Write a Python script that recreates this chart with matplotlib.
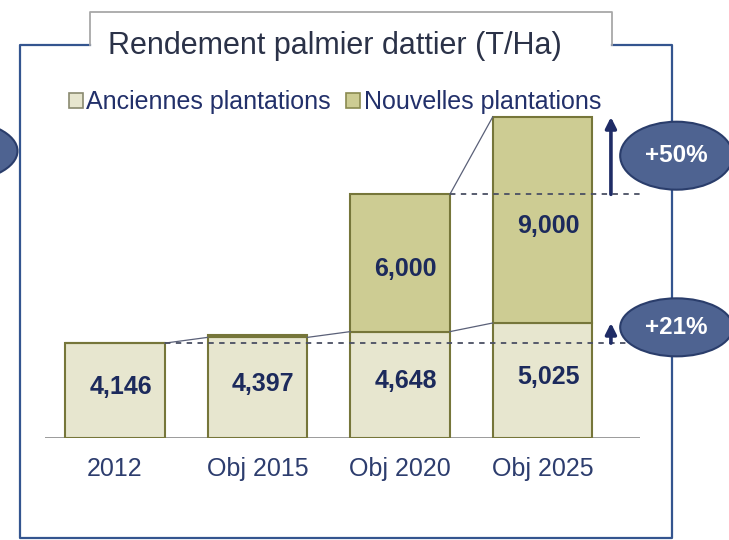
import matplotlib

matplotlib.use("Agg")
import matplotlib.pyplot as plt
import numpy as np
from matplotlib.patches import Ellipse, Patch

plt.rcParams["font.family"] = ["Liberation Sans", "DejaVu Sans"]

# rendement (T/Ha)
categories = ["2012", "Obj 2015", "Obj 2020", "Obj 2025"]
anciennes = [4146, 4397, 4648, 5025]
nouvelles = [0, 90, 6000, 9000]
series_names = ["Anciennes plantations", "Nouvelles plantations"]
title = "Rendement palmier dattier (T/Ha)"

C_OLD = "#e7e6cf"
C_NEW = "#cdcc93"
C_EDGE = "#76763a"
C_NAVY = "#1f2c66"
C_FRAME = "#34558f"
C_BUBBLE = "#4e6391"
C_TEXT = "#22306a"

W, H = 729, 540
fig = plt.figure(figsize=(W / 100, H / 100), dpi=100)
fig.patch.set_facecolor("white")

# frame + title tab, in pixel coordinates
bg = fig.add_axes([0, 0, 1, 1])
bg.set_xlim(0, W)
bg.set_ylim(H, 0)
bg.axis("off")
bg.plot([90, 20, 20, 672, 672, 612], [45, 45, 538, 538, 45, 45], color=C_FRAME, lw=1.6)
bg.plot([90, 90, 612, 612], [45, 12, 12, 45], color="#a8a8a8", lw=1.3)
bg.add_patch(Ellipse((-45, 151), 125, 62, facecolor=C_BUBBLE, edgecolor="#2a3d6b", lw=1.5, zorder=3))
bg.text(335, 46, title, ha="center", va="center", fontsize=22, color="#2b3248")

# bar chart
ax = fig.add_axes([45 / W, (H - 438) / H, 595 / W, 338 / H], zorder=2)
ax.patch.set_alpha(0)
x = np.arange(len(categories))
width = 0.70
old = np.array(anciennes)
new = np.array(nouvelles)
tot = old + new
ax.bar(x, old, width, color=C_OLD, edgecolor=C_EDGE, lw=1.5, zorder=2)
ax.bar(x, new, width, bottom=old, color=C_NEW, edgecolor=C_EDGE, lw=1.5, zorder=2)
ax.set_xlim(-0.491, 3.684)
ax.set_ylim(0, 14770)
for s in ax.spines.values():
    s.set_visible(False)
ax.set_yticks([])
ax.set_xticks(x)
ax.set_xticklabels(categories, fontsize=18, color="#2d3d6e")
ax.tick_params(axis="x", length=0, pad=14)
ax.axhline(0, color="#8a8a8a", lw=1.2, zorder=1)

for i in x:
    ax.text(i + 0.04, old[i] / 2 + 150, f"{old[i]:,}", ha="center", va="center",
            fontsize=18, fontweight="bold", color="#1c2a5c", zorder=4)
    if new[i] > 1000:
        ax.text(i + 0.04, old[i] + new[i] / 2 - 250, f"{new[i]:,}", ha="center", va="center",
                fontsize=18, fontweight="bold", color="#1c2a5c", zorder=4)

# thin connectors between bar tops
for i in range(len(x) - 1):
    ax.plot([x[i] + width / 2, x[i + 1] - width / 2], [old[i], old[i + 1]],
            color="#5a6078", lw=0.9, zorder=3)
ax.plot([x[2] + width / 2, x[3] - width / 2], [tot[2], tot[3]], color="#5a6078", lw=0.9, zorder=3)

# reference levels and growth arrows
xr = 3.684
ax.plot([x[0] + width / 2, xr], [old[0], old[0]], color="#4a4f63", lw=1.3, ls=(0, (3, 3)), clip_on=False, zorder=3)
ax.plot([x[2] + width / 2, xr], [tot[2], tot[2]], color="#4a4f63", lw=1.3, ls=(0, (3, 3)), clip_on=False, zorder=3)
xa = 3.48
for y0, y1 in [(old[0], old[3]), (tot[2], tot[3])]:
    ax.annotate("", xy=(xa, y1), xytext=(xa, y0),
                arrowprops=dict(arrowstyle="-|>", color=C_NAVY, lw=2.6,
                                mutation_scale=16, shrinkA=0, shrinkB=0),
                annotation_clip=False, zorder=4)

bubbles = [(old[0], old[3], 2535, 250), (tot[2], tot[3], 2970, 0)]
for (y0, y1, h, dy), lab in zip(bubbles, ["+21%", "+50%"]):
    yc = (y0 + y1) / 2 + dy
    ax.add_patch(Ellipse((3.94, yc), 0.79, h, facecolor=C_BUBBLE, edgecolor="#2a3d6b",
                         lw=1.5, clip_on=False, zorder=5))
    ax.text(3.94, yc, lab, ha="center", va="center", fontsize=17.5,
            fontweight="bold", color="white", zorder=6)

handles = [Patch(facecolor=C_OLD, edgecolor="#8a8a70", lw=1.2),
           Patch(facecolor=C_NEW, edgecolor="#8a8a50", lw=1.2)]
fig.legend(handles, series_names, loc="center", bbox_to_anchor=(335 / W, 1 - 102 / H),
           ncol=2, frameon=False, fontsize=18, handlelength=0.55, handleheight=0.55,
           handletextpad=0.15, columnspacing=0.6, labelcolor=C_TEXT, borderpad=0)

fig.savefig("out.png", dpi=100, facecolor="white")
